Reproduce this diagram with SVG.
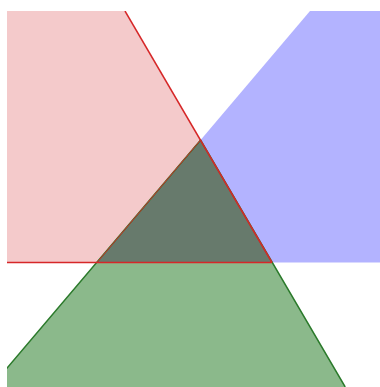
<svg xmlns="http://www.w3.org/2000/svg" width="380" height="387" viewBox="0 0 380 387">
  <defs>
    <clipPath id="plot"><rect x="7" y="11" width="373" height="376"/></clipPath>
  </defs>
  <style>
    .red-line{stroke:#d62728;stroke-width:1.5;fill:none}
    .green-line{stroke:#2b7a2b;stroke-width:1.5;fill:none}
  </style>
  <rect width="380" height="387" fill="#ffffff"/>
  <g clip-path="url(#plot)">
    <g id="red-region">
      <polygon points="7,11 125,11 200.6,140 97,262.5 7,262.5" fill="#f4cacb"/>
    </g>
    <g id="blue-region">
      <polygon points="310,11 380,11 380,262.5 272,262.5 200.6,140" fill="#b3b3ff"/>
    </g>
    <g id="green-region">
      <polygon points="200.6,140 345.2,387 -9,387" fill="#8bb98b"/>
    </g>
    <g id="intersection">
      <polygon points="200.6,140 272,262.5 97,262.5" fill="#677a6c"/>
    </g>
    <g id="connectors">
      <polyline class="green-line" points="-9,387 200.6,140 345.2,387"/>
      <line class="red-line" x1="125" y1="11" x2="272" y2="262.5"/>
      <line class="red-line" x1="7" y1="262.5" x2="272" y2="262.5"/>
      <line stroke="#d62728" stroke-width="1" x1="97" y1="262.5" x2="200.6" y2="140"/>
    </g>
  </g>
</svg>
